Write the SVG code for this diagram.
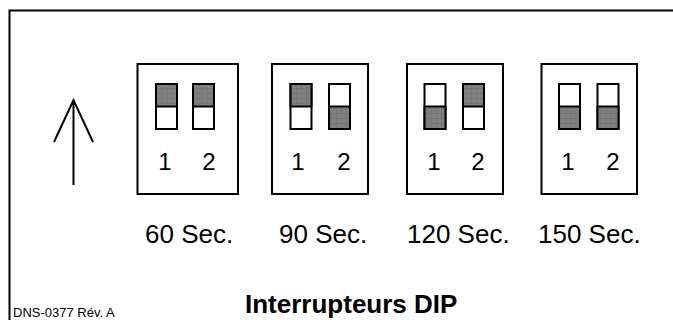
<svg xmlns="http://www.w3.org/2000/svg" width="673" height="320" viewBox="0 0 673 320">
  <style>
    .frame { fill: none; stroke: #000; stroke-width: 2; }
    .box { fill: #fff; stroke: #000; stroke-width: 2; }
    .sw { fill: #fff; stroke: #000; stroke-width: 2; }
    .on { fill: url(#hatch); stroke: #000; stroke-width: 2; }
    .num { font-family: "Liberation Sans", Arial, sans-serif; font-size: 24px; fill: #000; text-anchor: middle; }
    .sec { font-family: "Liberation Sans", Arial, sans-serif; font-size: 26px; fill: #000; }
    .title { font-family: "Liberation Sans", Arial, sans-serif; font-size: 26px; font-weight: bold; fill: #000; }
    .ref { font-family: "Liberation Sans", Arial, sans-serif; font-size: 13px; fill: #000; }
    .arrow { fill: none; stroke: #000; stroke-width: 2; }
  </style>
  <defs>
    <pattern id="hatch" patternUnits="userSpaceOnUse" width="5" height="5">
      <rect width="5" height="5" fill="#808080"/>
      <path d="M0 4.5H5M4.5 0V5" stroke="#6e6e6e" stroke-width="0.6"/>
    </pattern>
  </defs>
  <rect width="673" height="320" fill="#fff"/>
  <path class="frame" d="M9.5 320V10.5H673"/>

  <g id="arrow">
    <path class="arrow" d="M73.5 185V100M54 142L73.5 100L93 142"/>
  </g>

  <g id="sw60" transform="translate(137.5,64)">
    <rect class="box" x="0" y="0" width="100.5" height="130"/>
    <rect class="sw" x="18.5" y="20" width="21" height="45"/>
    <rect class="on" x="18.5" y="20" width="21" height="22.5"/>
    <rect class="sw" x="55.5" y="20" width="21" height="45"/>
    <rect class="on" x="55.5" y="20" width="21" height="22.5"/>
    <text class="num" x="27.5" y="106">1</text>
    <text class="num" x="71.5" y="106">2</text>
  </g>

  <g id="sw90" transform="translate(272,64)">
    <rect class="box" x="0" y="0" width="96" height="130"/>
    <rect class="sw" x="18.5" y="20" width="21" height="45"/>
    <rect class="on" x="18.5" y="20" width="21" height="22.5"/>
    <rect class="sw" x="57" y="20" width="21" height="45"/>
    <rect class="on" x="57" y="42.5" width="21" height="22.5"/>
    <text class="num" x="26" y="106">1</text>
    <text class="num" x="72" y="106">2</text>
  </g>

  <g id="sw120" transform="translate(407,64)">
    <rect class="box" x="0" y="0" width="96" height="130"/>
    <rect class="sw" x="17.5" y="20" width="21" height="45"/>
    <rect class="on" x="17.5" y="42.5" width="21" height="22.5"/>
    <rect class="sw" x="56" y="20" width="21" height="45"/>
    <rect class="on" x="56" y="20" width="21" height="22.5"/>
    <text class="num" x="27" y="106">1</text>
    <text class="num" x="71" y="106">2</text>
  </g>

  <g id="sw150" transform="translate(541.5,64)">
    <rect class="box" x="0" y="0" width="95.5" height="130"/>
    <rect class="sw" x="17.5" y="20" width="21" height="45"/>
    <rect class="on" x="17.5" y="42.5" width="21" height="22.5"/>
    <rect class="sw" x="56" y="20" width="21" height="45"/>
    <rect class="on" x="56" y="42.5" width="21" height="22.5"/>
    <text class="num" x="26.5" y="106">1</text>
    <text class="num" x="71.5" y="106">2</text>
  </g>

  <g id="labels">
    <text class="sec" x="145" y="243">60 Sec.</text>
    <text class="sec" x="279" y="243">90 Sec.</text>
    <text class="sec" x="407" y="243">120 Sec.</text>
    <text class="sec" x="538" y="243">150 Sec.</text>
    <text class="ref" x="13" y="317">DNS-0377 Rév. A</text>
    <text class="title" x="245" y="313">Interrupteurs DIP</text>
  </g>
</svg>
